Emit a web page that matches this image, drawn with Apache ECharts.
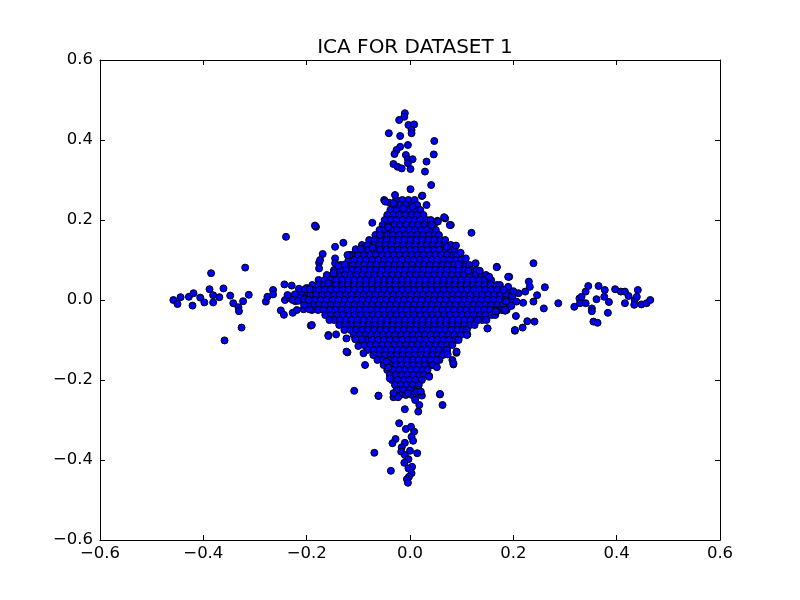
<!DOCTYPE html>
<html>
<head>
<meta charset="utf-8">
<script src="https://cdn.jsdelivr.net/npm/echarts@6/dist/echarts.min.js"></script>
<style>html,body{margin:0;padding:0;background:#fff}#c{width:800px;height:600px}</style>
</head>
<body>
<div id="c"></div>
<script>
const chartTitle = 'ICA FOR DATASET 1';
const xTicks = [-0.6, -0.4, -0.2, 0.0, 0.2, 0.4, 0.6];
const yTicks = [-0.6, -0.4, -0.2, 0.0, 0.2, 0.4, 0.6];

// dense core, estimated row by row: [y, [x values]]
const coreRows = [
 [0.25, [-0.027, -0.015, -0.003, 0.009]],
 [0.2375, [-0.033, -0.021, -0.009, 0.003, 0.014]],
 [0.225, [-0.038, -0.026, -0.015, -0.003, 0.009, 0.02]],
 [0.2125, [-0.044, -0.032, -0.021, -0.009, 0.003, 0.014, 0.026]],
 [0.2, [-0.049, -0.037, -0.026, -0.014, -0.002, 0.009, 0.021, 0.032, 0.04]],
 [0.1875, [-0.053, -0.042, -0.03, -0.019, -0.007, 0.005, 0.016, 0.028, 0.039, 0.046]],
 [0.175, [-0.059, -0.048, -0.036, -0.025, -0.013, -0.001, 0.01, 0.022, 0.033, 0.045, 0.05]],
 [0.1625, [-0.067, -0.056, -0.044, -0.033, -0.021, -0.009, 0.002, 0.014, 0.025, 0.037, 0.048, 0.056]],
 [0.15, [-0.079, -0.068, -0.056, -0.045, -0.033, -0.022, -0.01, 0.001, 0.013, 0.024, 0.036, 0.047, 0.059, 0.068]],
 [0.1375, [-0.093, -0.082, -0.07, -0.059, -0.047, -0.036, -0.024, -0.013, -0.001, 0.01, 0.022, 0.033, 0.045, 0.056, 0.068, 0.079]],
 [0.125, [-0.104, -0.092, -0.081, -0.069, -0.058, -0.046, -0.035, -0.023, -0.012, 0.0, 0.011, 0.023, 0.034, 0.046, 0.057, 0.069, 0.08, 0.086]],
 [0.1125, [-0.112, -0.1, -0.089, -0.077, -0.066, -0.054, -0.043, -0.031, -0.02, -0.008, 0.003, 0.015, 0.026, 0.038, 0.049, 0.061, 0.072, 0.084, 0.09]],
 [0.1, [-0.119, -0.108, -0.096, -0.085, -0.073, -0.062, -0.05, -0.039, -0.027, -0.016, -0.004, 0.007, 0.019, 0.03, 0.042, 0.053, 0.065, 0.076, 0.088, 0.099]],
 [0.0875, [-0.134, -0.122, -0.111, -0.099, -0.088, -0.076, -0.065, -0.053, -0.042, -0.03, -0.019, -0.007, 0.004, 0.016, 0.027, 0.039, 0.05, 0.062, 0.073, 0.085, 0.096, 0.108, 0.115]],
 [0.075, [-0.147, -0.135, -0.124, -0.112, -0.101, -0.089, -0.078, -0.066, -0.055, -0.043, -0.032, -0.02, -0.009, 0.003, 0.014, 0.026, 0.037, 0.049, 0.06, 0.072, 0.083, 0.095, 0.106, 0.118, 0.129]],
 [0.0625, [-0.161, -0.149, -0.138, -0.126, -0.115, -0.103, -0.092, -0.08, -0.069, -0.057, -0.046, -0.034, -0.023, -0.011, 0.0, 0.012, 0.023, 0.035, 0.046, 0.058, 0.069, 0.081, 0.092, 0.104, 0.115, 0.127, 0.138, 0.147]],
 [0.05, [-0.177, -0.165, -0.154, -0.142, -0.131, -0.119, -0.108, -0.096, -0.085, -0.073, -0.062, -0.05, -0.039, -0.027, -0.016, -0.004, 0.007, 0.019, 0.03, 0.042, 0.053, 0.065, 0.076, 0.088, 0.099, 0.111, 0.122, 0.134, 0.145, 0.157]],
 [0.0375, [-0.189, -0.177, -0.166, -0.154, -0.143, -0.131, -0.12, -0.108, -0.097, -0.085, -0.074, -0.062, -0.051, -0.039, -0.028, -0.016, -0.005, 0.007, 0.018, 0.03, 0.041, 0.053, 0.064, 0.076, 0.087, 0.099, 0.11, 0.122, 0.133, 0.145, 0.156, 0.168, 0.174]],
 [0.025, [-0.199, -0.188, -0.176, -0.165, -0.153, -0.142, -0.13, -0.119, -0.107, -0.096, -0.084, -0.073, -0.061, -0.05, -0.038, -0.027, -0.015, -0.004, 0.008, 0.019, 0.031, 0.042, 0.054, 0.065, 0.077, 0.088, 0.1, 0.111, 0.123, 0.134, 0.146, 0.157, 0.169, 0.18, 0.189]],
 [0.0125, [-0.205, -0.193, -0.182, -0.17, -0.159, -0.147, -0.136, -0.124, -0.113, -0.101, -0.09, -0.078, -0.067, -0.055, -0.044, -0.032, -0.021, -0.009, 0.002, 0.014, 0.025, 0.037, 0.048, 0.06, 0.071, 0.083, 0.094, 0.106, 0.117, 0.129, 0.14, 0.152, 0.163, 0.175, 0.186, 0.198]],
 [0.0, [-0.204, -0.195, -0.184, -0.172, -0.161, -0.149, -0.138, -0.126, -0.115, -0.103, -0.092, -0.08, -0.069, -0.057, -0.046, -0.034, -0.023, -0.011, 0.0, 0.012, 0.023, 0.035, 0.046, 0.058, 0.069, 0.081, 0.092, 0.104, 0.115, 0.127, 0.138, 0.15, 0.161, 0.173, 0.184, 0.196]],
 [-0.0125, [-0.199, -0.188, -0.176, -0.165, -0.153, -0.142, -0.13, -0.119, -0.107, -0.096, -0.084, -0.073, -0.061, -0.05, -0.038, -0.027, -0.015, -0.004, 0.008, 0.019, 0.031, 0.042, 0.054, 0.065, 0.077, 0.088, 0.1, 0.111, 0.123, 0.134, 0.146, 0.157, 0.169, 0.18, 0.192]],
 [-0.025, [-0.19, -0.178, -0.167, -0.155, -0.144, -0.132, -0.121, -0.109, -0.098, -0.086, -0.075, -0.063, -0.052, -0.04, -0.029, -0.017, -0.006, 0.006, 0.017, 0.029, 0.04, 0.052, 0.063, 0.075, 0.086, 0.098, 0.109, 0.121, 0.132, 0.144, 0.155, 0.167, 0.178, 0.187]],
 [-0.0375, [-0.164, -0.153, -0.141, -0.13, -0.118, -0.107, -0.095, -0.084, -0.072, -0.061, -0.049, -0.038, -0.026, -0.015, -0.003, 0.008, 0.02, 0.031, 0.043, 0.054, 0.066, 0.077, 0.089, 0.1, 0.112, 0.123, 0.135, 0.146, 0.158, 0.165]],
 [-0.05, [-0.147, -0.136, -0.124, -0.113, -0.101, -0.09, -0.078, -0.067, -0.055, -0.044, -0.032, -0.021, -0.009, 0.002, 0.014, 0.025, 0.037, 0.048, 0.06, 0.071, 0.083, 0.094, 0.106, 0.117, 0.129, 0.14, 0.148]],
 [-0.0625, [-0.137, -0.125, -0.114, -0.102, -0.091, -0.079, -0.068, -0.056, -0.045, -0.033, -0.022, -0.01, 0.001, 0.013, 0.024, 0.036, 0.047, 0.059, 0.07, 0.082, 0.093, 0.105, 0.116, 0.125]],
 [-0.075, [-0.127, -0.115, -0.104, -0.092, -0.081, -0.069, -0.058, -0.046, -0.035, -0.023, -0.012, 0.0, 0.011, 0.023, 0.034, 0.046, 0.057, 0.069, 0.08, 0.092, 0.103, 0.11]],
 [-0.0875, [-0.109, -0.098, -0.086, -0.075, -0.063, -0.052, -0.04, -0.029, -0.017, -0.006, 0.006, 0.017, 0.029, 0.04, 0.052, 0.063, 0.075, 0.086, 0.098]],
 [-0.1, [-0.096, -0.085, -0.073, -0.062, -0.05, -0.039, -0.027, -0.016, -0.004, 0.007, 0.019, 0.03, 0.042, 0.053, 0.065, 0.076, 0.088, 0.094]],
 [-0.1125, [-0.089, -0.077, -0.066, -0.054, -0.043, -0.031, -0.02, -0.008, 0.003, 0.015, 0.026, 0.038, 0.049, 0.061, 0.072, 0.082]],
 [-0.125, [-0.082, -0.07, -0.059, -0.047, -0.036, -0.024, -0.013, -0.001, 0.01, 0.022, 0.033, 0.045, 0.056, 0.068, 0.072]],
 [-0.1375, [-0.071, -0.06, -0.048, -0.037, -0.025, -0.014, -0.002, 0.009, 0.021, 0.032, 0.044, 0.055, 0.064]],
 [-0.15, [-0.063, -0.052, -0.04, -0.029, -0.017, -0.006, 0.006, 0.017, 0.029, 0.04, 0.052, 0.057]],
 [-0.1625, [-0.051, -0.04, -0.028, -0.017, -0.005, 0.006, 0.018, 0.029, 0.041, 0.045]],
 [-0.175, [-0.044, -0.033, -0.021, -0.01, 0.002, 0.013, 0.025, 0.034]],
 [-0.1875, [-0.039, -0.028, -0.016, -0.005, 0.007, 0.018, 0.027]],
 [-0.2, [-0.035, -0.024, -0.012, -0.001, 0.011, 0.023]],
 [-0.2125, [-0.029, -0.018, -0.006, 0.005, 0.017]],
 [-0.225, [-0.024, -0.013, -0.001, 0.01, 0.017]],
 [-0.2375, [-0.019, -0.008, 0.004, 0.013]]
];

const armLeft = [
 [-0.458,0.0],[-0.45,-0.01],[-0.444,0.007],[-0.428,0.008],[-0.419,0.017],[-0.421,-0.014],[-0.406,0.006],[-0.398,-0.006],
 [-0.385,0.067],[-0.388,0.027],[-0.381,0.012],[-0.381,-0.006],[-0.369,0.007],[-0.361,0.029],[-0.348,0.011],[-0.342,-0.008],
 [-0.332,-0.018],[-0.331,-0.028],[-0.323,-0.003],[-0.312,0.013],[-0.319,0.081],[-0.326,-0.069],[-0.359,-0.101],
 [-0.279,-0.004],[-0.276,0.008],[-0.265,0.025],[-0.265,0.014],[-0.25,-0.026],[-0.244,-0.037],[-0.243,0.039],[-0.229,0.036],
 [-0.242,0.0],[-0.227,-0.032],[-0.219,-0.025],[-0.206,-0.023],[-0.195,-0.023],[-0.192,-0.064],[-0.24,0.158],[-0.182,0.183],
 [-0.233,0.005],[-0.222,-0.003],[-0.212,0.008],[-0.203,0.002],[-0.197,-0.01],[-0.21,0.02],[-0.2,0.03],[-0.215,0.028],[-0.205,-0.012],
 [-0.203,0.027],[-0.194,0.027],[-0.237,0.0125],[-0.223,0.014],[-0.227,0.0],[-0.216,-0.002],[-0.205,0.002],[-0.196,0.0]
];

const armRight = [
 [0.239,0.092],[0.168,0.083],[0.261,0.032],[0.246,0.012],[0.287,-0.008],[0.259,-0.021],[0.318,-0.017],[0.328,0.004],
 [0.332,0.008],[0.34,0.021],[0.345,0.035],[0.329,-0.008],[0.34,-0.008],[0.352,-0.021],[0.352,-0.028],[0.365,0.035],
 [0.361,0.002],[0.377,0.025],[0.376,0.008],[0.385,-0.005],[0.355,-0.054],[0.363,-0.057],[0.383,-0.032],[0.397,0.027],
 [0.408,0.021],[0.416,0.021],[0.423,0.01],[0.416,-0.008],[0.435,0.0],[0.434,-0.012],[0.441,0.025],[0.439,0.008],
 [0.448,-0.011],[0.458,-0.008],[0.465,0.0],
 [0.192,0.058],[0.153,0.058],[0.23,0.046],[0.232,0.033],[0.223,0.021],[0.21,0.017],[0.239,-0.004],[0.219,-0.007],
 [0.206,-0.004],[0.205,-0.04],[0.227,-0.053],[0.241,-0.054],[0.218,-0.069],[0.203,-0.077],[0.15,-0.071],[0.19,0.033],
 [0.181,0.025],[0.186,-0.004],[0.184,-0.027],[0.168,-0.028],[0.198,0.01],[0.196,-0.015],[0.2,0.022],[0.203,-0.075]
];

const armTop = [
 [-0.01,0.467],[-0.011,0.458],[-0.021,0.45],[-0.003,0.4375],[0.008,0.439],[0.003,0.425],[0.003,0.417],[-0.041,0.417],
 [-0.019,0.41],[0.047,0.3975],[-0.004,0.3875],[-0.019,0.383],[-0.026,0.375],[-0.03,0.365],[-0.008,0.3625],[0.046,0.364],
 [-0.004,0.352],[0.005,0.352],[-0.004,0.342],[-0.032,0.34],[-0.024,0.333],[-0.016,0.329],[0.001,0.3275],[0.032,0.346],
 [0.029,0.321],[0.041,0.2875],[0.001,0.277],[0.023,0.26],[-0.029,0.2625],[-0.05,0.25],[-0.04,0.243],[-0.03,0.239],
 [0.032,0.2375],[-0.073,0.193],[-0.013,0.229],[0.005,0.233],[0.068,0.204],[0.053,0.198],[0.066,0.207],[0.054,0.196],
 [0.079,0.1875],[0.042,0.1875],[0.119,0.168],[-0.048,0.246],[-0.032,0.242],[-0.042,0.183],[-0.057,0.1625],[0.024,0.261]
];

const armBottom = [
 [-0.021,-0.308],[-0.008,-0.3225],[0.002,-0.317],[0.008,-0.329],[0.003,-0.342],[-0.028,-0.3475],[-0.034,-0.358],[-0.01,-0.357],
 [0.006,-0.352],[-0.016,-0.368],[0.0,-0.377],[-0.017,-0.379],[0.014,-0.383],[-0.01,-0.3875],[-0.069,-0.382],[-0.003,-0.398],
 [-0.011,-0.407],[0.004,-0.417],[-0.003,-0.421],[-0.037,-0.427],[0.003,-0.433],[-0.002,-0.442],[-0.006,-0.448],[-0.004,-0.457],
 [-0.061,-0.24],[-0.032,-0.243],[-0.023,-0.243],[-0.01,-0.273],[0.016,-0.279],[0.018,-0.2625],[0.01,-0.25],[0.023,-0.239],
 [0.058,-0.236],[0.063,-0.2625],[0.037,-0.19],[-0.087,-0.1625],[0.013,-0.229],[-0.004,-0.233],[-0.026,-0.225],[-0.108,-0.227],
 [-0.032,-0.233],[0.021,-0.229],[0.052,-0.168],[0.052,-0.15]
];

const coreFringe = [
 [-0.184,0.186],[-0.129,0.143],[-0.145,0.133],[-0.169,0.115],[-0.176,0.093],[-0.176,0.079],[-0.145,0.104],[-0.145,0.092],
 [-0.126,0.089],[-0.117,0.1125],[-0.105,0.127],[-0.093,0.129],[-0.073,0.131],[-0.146,0.065],[-0.158,0.042],[-0.148,0.067],
 [-0.121,0.1125],[-0.139,0.085],[-0.174,0.1],[-0.095,0.127],[-0.058,0.1625],[-0.042,0.182],
 [0.089,0.136],[0.071,0.133],[0.094,0.089],[0.127,0.092],[0.168,0.082],[0.153,0.058],[0.19,0.058],[0.135,0.073],[0.113,0.0725],
 [0.077,0.1875],[0.098,0.118],[0.108,0.104],
 [-0.19,-0.0625],[-0.158,-0.0875],[-0.143,-0.086],[-0.123,-0.096],[-0.121,-0.131],[-0.09,-0.133],[-0.061,-0.239],[-0.045,-0.154],
 [-0.042,-0.169],[-0.039,-0.196],[-0.156,-0.05],[-0.106,-0.098],[-0.093,-0.098],[-0.158,-0.09],[-0.123,-0.129],[-0.1,-0.115],
 [0.15,-0.071],[0.111,-0.086],[0.09,-0.132],[0.073,-0.136],[0.082,-0.15],[0.084,-0.161],[0.037,-0.192],[0.058,-0.235],
 [0.132,-0.05],[0.166,-0.029],[0.184,-0.025],[0.11,-0.0875],[0.09,-0.129],[0.084,-0.158]
];

const points = [];
coreRows.forEach(r => r[1].forEach(x => points.push([x, r[0]])));
[armLeft, armRight, armTop, armBottom, coreFringe].forEach(a => a.forEach(p => points.push(p)));

const fmt = v => {
  const s = (Math.round(v * 10) / 10).toFixed(1);
  return s === '-0.0' ? '0.0' : s.replace('-', '\u2212');
};
const FONT = 'DejaVu Sans';
const axisCommon = {
  type: 'value', min: xTicks[0], max: xTicks[xTicks.length - 1], interval: 0.2,
  splitLine: { show: false },
  axisLine: { show: true, onZero: false, lineStyle: { color: '#000', width: 1 } },
  axisTick: { show: true, inside: true, length: 5, lineStyle: { color: '#000' } }
};
const yCommon = Object.assign({}, axisCommon, { min: yTicks[0], max: yTicks[yTicks.length - 1] });

const chart = echarts.init(document.getElementById('c'));
chart.setOption({
  animation: false,
  backgroundColor: '#fff',
  title: {
    text: chartTitle, left: 410, textAlign: 'center', top: 33,
    textStyle: { fontFamily: FONT, fontSize: 20, fontWeight: 'normal', color: '#000' }
  },
  grid: { left: 100, right: 80, top: 60, bottom: 60, containLabel: false },
  xAxis: [
    Object.assign({}, axisCommon, { position: 'bottom',
      axisLabel: { formatter: fmt, margin: 5, fontFamily: FONT, fontSize: 16.5, color: '#000' } }),
    Object.assign({}, axisCommon, { position: 'top', axisLabel: { show: false } })
  ],
  yAxis: [
    Object.assign({}, yCommon, { position: 'left',
      axisLabel: { formatter: fmt, margin: 7, fontFamily: FONT, fontSize: 16.5, color: '#000' } }),
    Object.assign({}, yCommon, { position: 'right', axisLabel: { show: false } })
  ],
  series: [{
    type: 'scatter',
    data: points,
    symbol: 'circle',
    symbolSize: 7,
    large: false,
    itemStyle: { color: '#0000ff', borderColor: '#000', borderWidth: 1, opacity: 1 },
    emphasis: { disabled: true }
  }]
});
</script>
</body>
</html>
